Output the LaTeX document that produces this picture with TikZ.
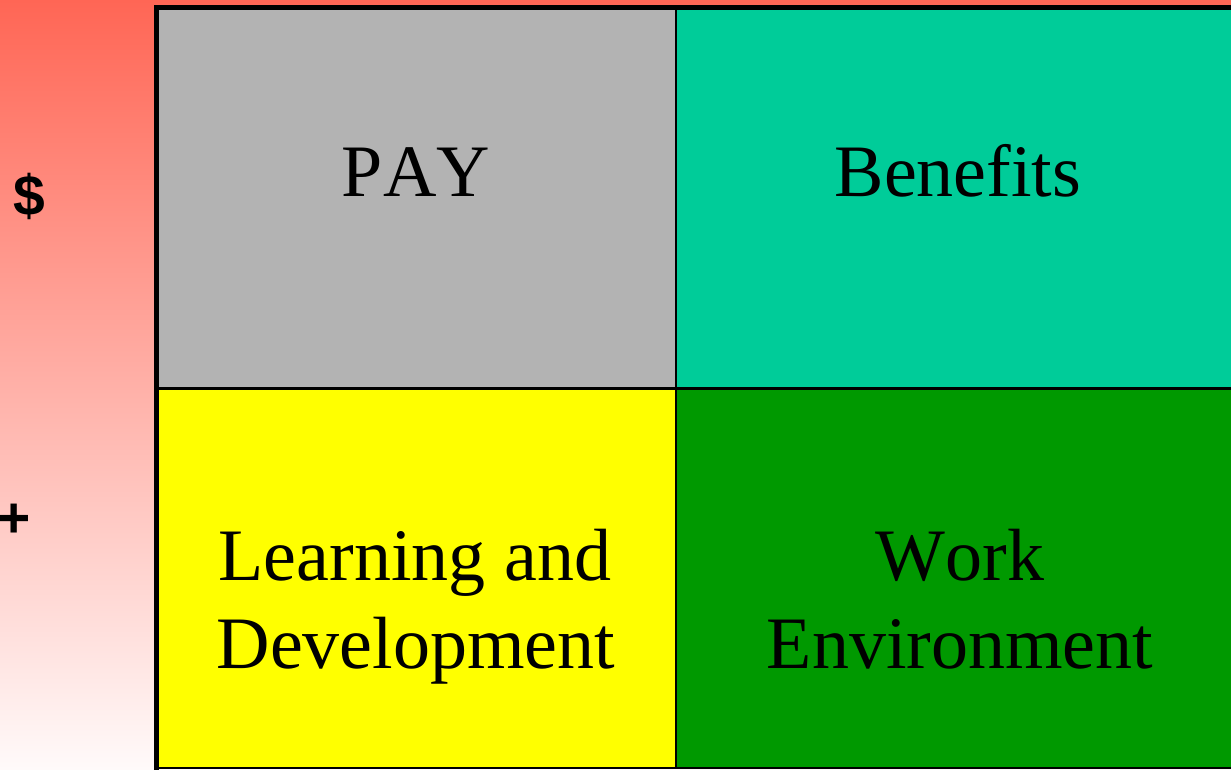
\documentclass[tikz,border=0pt]{standalone}
\usepackage{fontspec}
\setmainfont[Kerning=Off]{Liberation Serif}
\newfontfamily\arialfont{Liberation Sans}
\definecolor{bgtop}{RGB}{255,102,85}
\definecolor{bgbot}{RGB}{255,250,250}
\definecolor{cgray}{RGB}{179,179,179}
\definecolor{cteal}{RGB}{0,204,153}
\definecolor{cyell}{RGB}{255,255,0}
\definecolor{cgreen}{RGB}{0,153,0}
\tikzset{
  cell/.style={draw=black, line width=2.5pt},
  celltext/.style={font=\fontsize{74}{88}\selectfont, align=center, inner sep=0pt, anchor=base},
  sidemark/.style={font=\arialfont\bfseries\fontsize{57}{60}\selectfont, inner sep=0pt, anchor=base}
}
\begin{document}
\begin{tikzpicture}[x=1pt,y=1pt]
\useasboundingbox (0,0) rectangle (1231,769);
\shade[top color=bgtop, bottom color=bgbot] (0,0) rectangle (1231,769);
% cells (y measured from bottom: y = 769 - py)
\path[fill=cgray] (156,380.5) rectangle (676,761.5);
\path[fill=cteal] (676,380.5) rectangle (1235,761.5);
\path[fill=cyell] (156,1) rectangle (676,380.5);
\path[fill=cgreen] (676,1) rectangle (1235,380.5);
\draw[line width=2.5pt] (156,380.5) -- (1235,380.5);
\draw[line width=2.5pt] (676,1) -- (676,761.5);
\draw[line width=2.5pt] (156,1) -- (1235,1);
\draw[line width=5pt] (156,-2) -- (156,761.5) -- (1235,761.5);
% texts
\node[celltext] (pay) at (416,572) {PAY};
\node[celltext] (ben) at (958,572) {Benefits};
\node[celltext] (ld1) at (415,189) {Learning and};
\node[celltext] (ld2) at (416,101) {Development};
\node[celltext] (we1) at (960,189) {Work};
\node[celltext] (we2) at (960,101) {Environment};
\node[sidemark] (dollar) at (29,553) {\$};
\node[sidemark] (plus) at (14,232) {+};
\end{tikzpicture}
\end{document}
